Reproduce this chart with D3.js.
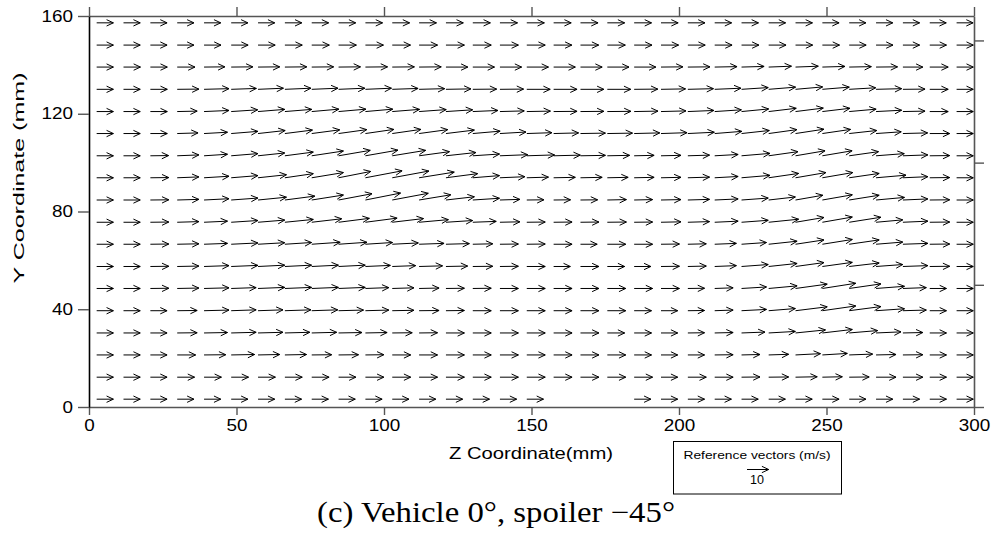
<!DOCTYPE html>
<html>
<head>
<meta charset="utf-8">
<script src="https://cdn.jsdelivr.net/npm/d3@7"></script>
<style>
  body { margin: 0; background: #fff; }
  text { fill: #000; }
</style>
</head>
<body>
<script>
 // grid of measurement points (mm)
 const zCoords = [2.6, 11.7, 20.8, 29.9, 39.0, 48.2, 57.3, 66.4, 75.5, 84.6, 93.7, 102.8, 111.9, 121.0, 130.1, 139.3, 148.4,
                  157.5, 166.6, 175.7, 184.8, 193.9, 203.0, 212.1, 221.2, 230.4, 239.5, 248.6, 257.7, 266.8, 275.9, 285.0, 294.1];
 // rows, top to bottom
 const yCoords = [157.2, 148.1, 139.1, 130.0, 120.9, 111.9, 102.8, 93.8, 84.7, 75.6, 66.6, 57.5, 48.5, 39.4, 30.3, 21.3, 12.2, 3.2];

 // horizontal velocity component (m/s), one list per row
 const uRows = [
  [7.7,7.7,7.7,7.7,7.7,7.7,7.7,7.8,7.8,7.9,7.9,8.0,8.0,8.0,8.1,8.1,8.1,8.1,8.1,8.0,8.0,7.9,7.9,7.8,7.8,7.8,7.8,7.7,7.7,7.7,7.7,7.6,7.6],
  [7.7,7.7,7.7,7.7,7.8,7.8,7.9,8.0,8.1,8.2,8.3,8.4,8.5,8.5,8.5,8.5,8.5,8.4,8.4,8.3,8.2,8.1,8.0,8.0,8.0,8.0,7.9,7.9,7.8,7.8,7.7,7.7,7.7],
  [7.7,7.8,7.8,8.2,9.6,10.0,10.0,10.1,10.1,10.1,10.2,10.2,10.2,10.1,10.0,10.0,10.0,10.0,10.0,10.0,10.0,10.1,10.2,10.3,10.4,10.5,10.5,10.4,10.2,9.9,9.2,8.5,7.7],
  [7.7,7.7,7.8,10.0,11.5,11.6,11.7,12.0,12.1,12.1,12.0,11.9,11.8,11.5,11.0,10.9,10.8,10.8,10.8,10.8,10.9,11.3,11.8,12.1,12.3,12.4,12.5,12.4,12.2,11.8,10.2,8.5,7.7],
  [7.7,7.7,7.8,9.2,11.5,12.2,12.3,12.4,12.5,12.6,12.6,12.6,12.5,12.3,11.6,11.2,10.9,10.8,10.8,10.9,11.0,11.5,12.0,12.3,12.5,12.7,12.8,12.7,12.4,11.8,10.2,8.5,7.7],
  [7.7,7.7,7.8,9.6,10.8,12.3,12.5,12.7,12.9,13.0,13.1,13.2,13.2,13.1,12.6,12.0,11.6,11.5,11.5,11.6,11.8,12.0,12.2,12.5,12.8,13.0,13.1,13.0,12.7,11.6,11.4,9.2,7.7],
  [7.7,7.7,8.4,10.0,10.8,12.3,12.3,13.1,14.6,14.6,15.0,15.4,14.0,13.8,12.3,12.8,12.8,12.3,11.5,10.3,9.2,9.2,10.0,10.8,13.1,13.5,13.6,13.7,13.5,13.0,11.5,9.2,7.7],
  [7.7,7.7,8.5,10.0,11.5,12.3,13.1,13.1,14.6,14.8,16.9,16.9,16.2,14.6,12.3,11.5,10.0,10.0,10.0,9.6,9.2,9.2,10.0,10.8,13.1,13.8,14.0,14.0,13.8,13.8,11.5,9.2,7.7],
  [7.7,7.7,8.5,10.0,11.5,12.3,13.1,13.8,14.6,15.4,16.2,16.6,14.6,13.1,12.3,9.2,7.9,7.8,7.9,8.8,8.5,9.2,10.0,10.8,12.3,12.3,12.6,13.8,13.8,13.1,11.5,9.2,7.7],
  [7.7,7.7,8.5,10.0,10.8,12.3,12.3,13.1,13.8,14.2,14.6,14.4,13.5,12.3,10.8,9.2,8.5,8.5,8.5,8.8,8.5,9.2,10.0,10.8,12.3,13.8,13.1,13.8,14.6,12.3,11.5,9.2,7.7],
  [7.7,7.7,8.5,10.0,10.8,12.3,12.3,12.3,13.1,13.1,12.5,12.0,11.5,10.8,9.2,8.5,8.5,8.5,7.7,8.5,8.5,8.5,8.5,10.0,11.5,13.1,13.1,13.8,13.8,12.3,11.5,9.2,7.7],
  [7.7,7.7,8.5,10.0,11.5,12.3,12.3,12.3,12.3,12.3,11.5,10.8,10.8,10.0,9.2,8.5,8.5,7.7,8.5,8.0,7.7,8.5,8.5,10.0,12.3,13.1,13.1,13.8,13.8,12.3,11.5,9.2,7.7],
  [7.7,7.7,8.5,10.0,11.5,11.5,12.3,12.3,12.3,12.3,10.8,10.0,9.2,8.5,8.5,8.5,8.5,8.5,8.5,8.5,8.5,8.5,7.7,8.5,11.5,13.1,14.6,15.4,14.6,13.1,10.8,7.7,7.7],
  [7.7,7.7,7.7,9.2,11.5,11.5,11.5,12.0,12.0,11.5,10.8,10.0,9.2,8.5,8.5,8.5,8.5,8.5,8.5,8.5,8.0,7.7,7.7,8.5,11.5,12.3,14.6,15.4,14.6,13.1,10.8,7.7,7.7],
  [7.7,7.7,7.7,9.2,10.8,11.5,11.5,11.5,11.5,10.8,10.0,9.2,8.5,8.5,8.5,8.5,8.5,8.5,8.5,8.0,8.0,7.7,7.7,8.5,10.8,12.3,13.8,13.8,13.1,11.5,9.2,7.7,7.7],
  [7.7,7.7,7.7,8.5,10.0,10.8,10.0,10.0,9.2,9.2,8.5,8.5,8.5,8.5,8.5,8.5,8.5,8.5,8.5,8.5,8.0,7.7,7.7,8.5,8.5,9.2,11.5,11.5,10.8,9.2,9.2,7.7,7.7],
  [7.7,7.7,7.7,8.0,8.0,8.0,8.0,8.0,8.0,8.0,8.5,8.5,8.5,8.5,8.5,8.5,8.5,8.5,8.5,8.5,8.5,7.7,8.5,8.5,8.5,9.2,10.0,9.2,9.2,9.2,9.2,7.7,7.7],
  [7.7,7.7,7.7,7.7,7.7,7.7,7.7,7.7,7.7,7.7,7.7,7.7,7.7,7.7,7.7,7.7,7.7,null,null,null,7.7,7.7,7.7,7.7,7.7,7.7,7.7,7.7,7.7,7.7,7.7,7.7,7.7]
 ];

 // vertical velocity component (m/s), one list per row
 const vRows = [
  [0,0,0,0,0,0,0,0,0,0,0,0,0,0,0,0,0,0,0,0,0,0,0,0,0,0,0,0,0,0,0,0,0],
  [0,0,0,0,0,0,0,0,0,0,0,0,0,0,0,0,0,0,0,0,0,0,0,0,0,0,0,0,0,0,0,0,0],
  [0,0,0,0,0.1,0.1,0.1,0.1,0.1,0.1,0.1,0.1,0.1,0,0,0,0,0,0,0,0,0.1,0.1,0.2,0.3,0.4,0.4,0.3,0.2,0.1,0,0,0],
  [0,0,0,0.1,0.3,0.4,0.5,0.5,0.5,0.5,0.5,0.4,0.3,0.2,0.1,0.1,0,0,0,0,0.1,0.2,0.3,0.5,0.8,1.0,1.1,1.0,0.7,0.3,0.1,0,0],
  [0,0,0,0.2,0.5,0.8,1.0,1.0,1.1,1.1,1.1,1.0,0.9,0.8,0.5,0.3,0.2,0.1,0.1,0.1,0.2,0.3,0.5,0.8,1.2,1.5,1.6,1.5,1.1,0.6,0.2,0,0],
  [0,0,0,0.3,0.6,1.0,1.4,1.6,1.7,1.8,1.9,1.9,1.8,1.6,1.1,0.7,0.4,0.3,0.2,0.2,0.3,0.4,0.6,1.0,1.4,1.8,2.0,1.9,1.4,0.8,0.3,0,0],
  [0,0,0.1,0.4,0.7,1.0,1.3,1.7,2.2,2.5,2.6,2.5,1.9,1.5,0.8,0.5,0.4,0.3,0.2,0.2,0.2,0.2,0.3,0.6,1.1,1.9,2.3,2.3,1.9,1.0,0.4,0.1,0],
  [0,0,0.1,0.4,0.7,1.0,1.4,1.9,2.4,2.9,3.2,3.1,2.6,1.9,1.0,0.5,0.3,0.2,0.2,0.2,0.2,0.2,0.3,0.6,1.1,2.0,2.4,2.4,2.0,1.2,0.5,0.1,0],
  [0,0,0.1,0.3,0.6,0.9,1.3,1.8,2.3,2.9,3.2,3.1,2.4,1.5,0.8,0.3,0.1,0.1,0.1,0.2,0.2,0.2,0.3,0.5,0.9,1.4,2.2,2.4,2.2,1.2,0.5,0.1,0],
  [0,0,0.1,0.3,0.5,0.8,1.0,1.3,1.6,1.8,1.9,1.7,1.2,0.8,0.4,0.2,0.1,0.1,0.1,0.1,0.1,0.2,0.3,0.5,0.9,1.4,2.2,2.4,2.3,1.1,0.5,0.1,0],
  [0,0,0.1,0.2,0.4,0.6,0.7,0.8,0.9,0.9,0.8,0.6,0.4,0.3,0.2,0.1,0.1,0,0,0,0,0.1,0.2,0.4,0.8,1.4,2.0,2.2,2.0,1.0,0.4,0.1,0],
  [0,0,0.1,0.2,0.4,0.5,0.6,0.6,0.6,0.6,0.5,0.4,0.3,0.2,0.1,0.1,0,0,0,0,0,0.1,0.2,0.4,0.9,1.4,1.8,1.9,1.6,0.9,0.4,0.1,0],
  [0,0,0.1,0.2,0.3,0.4,0.5,0.5,0.5,0.5,0.4,0.3,0.2,0.1,0.1,0,0,0,0,0,0,0,0.1,0.3,0.7,1.2,2.0,2.4,2.1,1.0,0.4,0,0],
  [0,0,0,0.1,0.3,0.4,0.4,0.4,0.4,0.3,0.3,0.2,0.1,0.1,0,0,0,0,0,0,0,0,0.1,0.3,0.6,1.0,1.8,2.2,1.9,0.9,0.3,0,0],
  [0,0,0,0.1,0.2,0.3,0.3,0.3,0.3,0.2,0.2,0.1,0.1,0,0,0,0,0,0,0,0,0,0.1,0.2,0.4,0.7,1.4,1.6,1.1,0.5,0.2,0,0],
  [0,0,0,0,0.1,0.2,0.2,0.2,0.1,0.1,0.1,0,0,0,0,0,0,0,0,0,0,0,0,0.1,0.2,0.3,0.6,0.7,0.4,0.2,0.1,0,0],
  [0,0,0,0,0,0,0,0,0,0,0,0,0,0,0,0,0,0,0,0,0,0,0,0,0.1,0.1,0.2,0.2,0.1,0,0,0,0],
  [0,0,0,0,0,0,0,0,0,0,0,0,0,0,0,0,0,0,0,0,0,0,0,0,0,0,0,0,0,0,0,0,0]
 ];

 // axis ticks
 const xTicks = [0, 50, 100, 150, 200, 250, 300];
 const yTicks = [0, 40, 80, 120, 160];
 const yTicksRight = [0, 50, 100, 150];
 const refSpeed = 10;

 // constants
 const width = 992;
 const height = 539;
 const margin = { top: 16, bottom: 132, left: 89, right: 18 };
 const digitW = 10.5;
 const sans = '"Liberation Sans", Arial, sans-serif';
 const serif = '"Liberation Serif", "Times New Roman", serif';

 const svg = d3.select('body').append('svg')
       .attr('width', width).attr('height', height);

 const xScale = d3.scaleLinear().domain([0, 300]).range([margin.left, width - margin.right]);
 const yScale = d3.scaleLinear().domain([0, 160]).range([height - margin.bottom, margin.top]);
 // arrow length in px for a speed in m/s
 const lenScale = d3.scaleLinear().domain([0, refSpeed]).range([0, 21.7]);

 // arrow path: tail at (x0,y0), components in px
 const head = 7.5, headAng = 25 * Math.PI / 180;
 function arrowPath(x0, y0, dx, dy) {
    const x1 = x0 + dx, y1 = y0 - dy;
    const a = Math.atan2(-dy, dx);
    const p = d3.path();
    p.moveTo(x0, y0); p.lineTo(x1, y1);
    p.moveTo(x1 - head * Math.cos(a - headAng), y1 - head * Math.sin(a - headAng));
    p.lineTo(x1, y1);
    p.lineTo(x1 - head * Math.cos(a + headAng), y1 - head * Math.sin(a + headAng));
    return p.toString();
 }

 // flatten vectors
 const vectors = [];
 uRows.forEach((row, i) => row.forEach((u, j) => {
    if (u != null) vectors.push({ z: zCoords[j], y: yCoords[i], u: u, v: vRows[i][j] });
 }));

 svg.append('g').selectAll('path').data(vectors).enter().append('path')
    .attr('d', d => arrowPath(xScale(d.z), yScale(d.y), lenScale(d.u), lenScale(d.v)))
    .attr('fill', 'none').attr('stroke', '#000').attr('stroke-width', 1);

 // axes
 const axisColor = '#555';
 const styleAxis = g => {
    g.selectAll('.domain').attr('stroke', axisColor).attr('stroke-width', 1.6);
    g.selectAll('.tick line').attr('stroke', axisColor).attr('stroke-width', 1.4);
 };

 svg.append('g').attr('transform', `translate(0, ${yScale(160)})`)
    .call(d3.axisTop(xScale).tickValues(xTicks).tickSize(9).tickSizeOuter(0).tickFormat(''))
    .call(styleAxis);
 svg.append('g').attr('transform', `translate(${xScale(300)}, 0)`)
    .call(d3.axisRight(yScale).tickValues(yTicksRight).tickSize(10).tickSizeOuter(0).tickFormat(''))
    .call(styleAxis);

 const xAxis = svg.append('g').attr('transform', `translate(0, ${yScale(0)})`)
    .call(d3.axisBottom(xScale).tickValues(xTicks).tickSize(8).tickSizeOuter(0).tickPadding(5))
    .call(styleAxis);
 const yAxis = svg.append('g').attr('transform', `translate(${xScale(0)}, 0)`)
    .call(d3.axisLeft(yScale).tickValues(yTicks).tickSize(11).tickSizeOuter(0).tickPadding(5))
    .call(styleAxis);
 yAxis.select('.domain').attr('stroke', '#000');

 [xAxis, yAxis].forEach(g => g.selectAll('.tick text')
    .attr('font-size', 16).attr('fill', '#000')
    .style('font-family', sans)
    .attr('textLength', d => String(d).length * digitW)
    .attr('lengthAdjust', 'spacingAndGlyphs'));

 // axis titles
 svg.append('text')
    .attr('transform', `translate(24, ${178}) rotate(-90)`)
    .attr('text-anchor', 'middle').attr('font-size', 15).style('font-family', sans)
    .attr('textLength', 211).attr('lengthAdjust', 'spacingAndGlyphs')
    .text('Y Coordinate (mm)');
 svg.append('text')
    .attr('x', 531).attr('y', 459)
    .attr('text-anchor', 'middle').attr('font-size', 16).style('font-family', sans)
    .attr('textLength', 164).attr('lengthAdjust', 'spacingAndGlyphs')
    .text('Z Coordinate(mm)');

 // reference vector box
 const legend = svg.append('g');
 legend.append('rect')
    .attr('x', 673.5).attr('y', 441.5).attr('width', 168).attr('height', 52.5)
    .attr('fill', 'none').attr('stroke', '#000').attr('stroke-width', 1);
 legend.append('text')
    .attr('x', 757).attr('y', 459).attr('text-anchor', 'middle').attr('font-size', 11)
    .style('font-family', sans)
    .attr('textLength', 147).attr('lengthAdjust', 'spacingAndGlyphs')
    .text('Reference vectors (m/s)');
 legend.append('path')
    .attr('d', arrowPath(747, 469.5, lenScale(refSpeed), 0))
    .attr('fill', 'none').attr('stroke', '#000').attr('stroke-width', 1);
 legend.append('text')
    .attr('x', 757).attr('y', 484).attr('text-anchor', 'middle').attr('font-size', 12)
    .style('font-family', sans)
    .attr('textLength', 14).attr('lengthAdjust', 'spacingAndGlyphs')
    .text(refSpeed);

 // caption
 svg.append('text')
    .attr('x', 496).attr('y', 522).attr('text-anchor', 'middle')
    .style('font-family', serif).attr('font-size', 29)
    .attr('textLength', 358).attr('lengthAdjust', 'spacingAndGlyphs')
    .text('(c) Vehicle 0°, spoiler −45°');
</script>
</body>
</html>
